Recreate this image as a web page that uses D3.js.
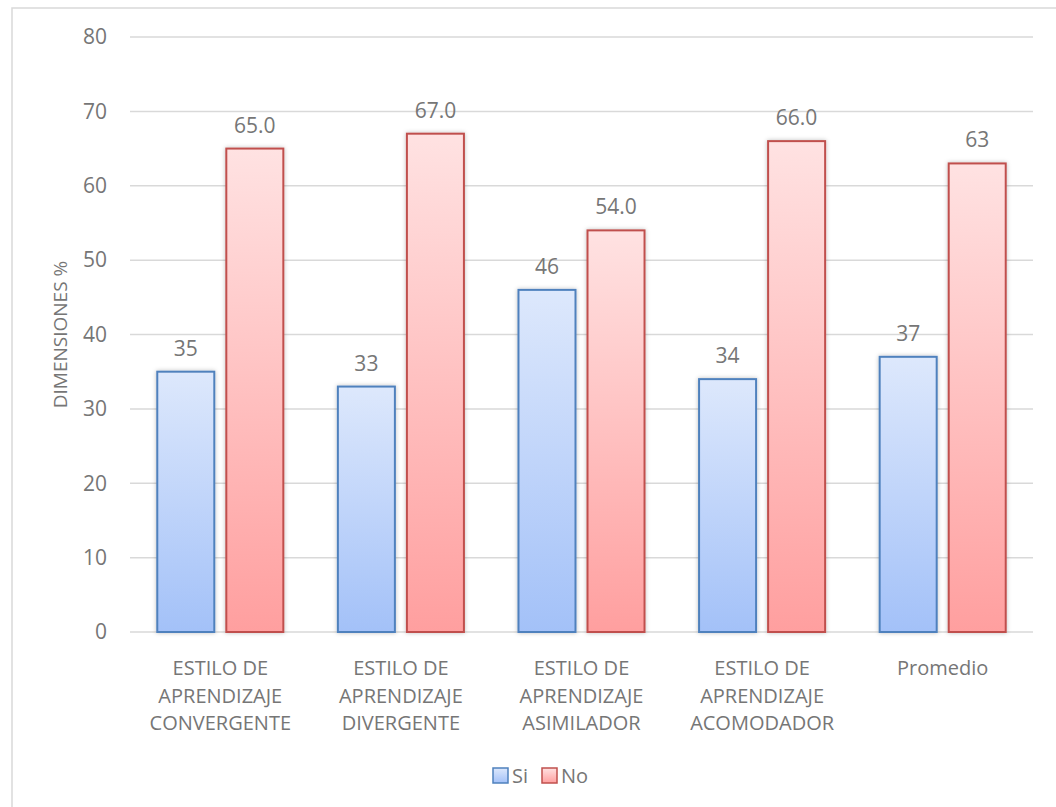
<!DOCTYPE html>
<html>
<head>
<meta charset="utf-8">
<script src="https://cdn.jsdelivr.net/npm/d3@7"></script>
<style>
  body { margin: 0; background: #fff; }
  text { font-family: "Open Sans", "Noto Sans", sans-serif; fill: #767676; }
</style>
</head>
<body>
<svg id="chart" width="1056" height="807"></svg>
<script>
// Data
const categories = [
  ["ESTILO DE", "APRENDIZAJE", "CONVERGENTE"],
  ["ESTILO DE", "APRENDIZAJE", "DIVERGENTE"],
  ["ESTILO DE", "APRENDIZAJE", "ASIMILADOR"],
  ["ESTILO DE", "APRENDIZAJE", "ACOMODADOR"],
  ["Promedio"]
];
const seriesNames = ["Si", "No"];
const siValues = [35, 33, 46, 34, 37];
const noValues = [65, 67, 54, 66, 63];
const siLabels = ["35", "33", "46", "34", "37"];
const noLabels = ["65.0", "67.0", "54.0", "66.0", "63"];
const yTicks = [0, 10, 20, 30, 40, 50, 60, 70, 80];

const svg = d3.select("#chart");

// frame of the chart area (right/bottom edges fall outside the picture)
svg.append("rect")
    .attr("x", 12).attr("y", 8)
    .attr("width", 1100).attr("height", 900)
    .attr("fill", "none")
    .attr("stroke", "#d9d9d9")
    .attr("stroke-width", 1.5);

const margin = {top: 37, left: 130, right: 1033, bottom: 632};

const y = d3.scaleLinear().domain([0, 80]).range([margin.bottom, margin.top]);
const x0 = d3.scaleBand()
    .domain(d3.range(categories.length))
    .range([margin.left, margin.right])
    .paddingInner(0.302)
    .paddingOuter(0.151);
const x1 = d3.scaleBand()
    .domain(seriesNames)
    .range([0, x0.bandwidth()])
    .paddingInner(0.174);

// gradients + shadow
const defs = svg.append("defs");
function grad(id, top, bottom) {
  const g = defs.append("linearGradient").attr("id", id)
      .attr("x1", 0).attr("y1", 0).attr("x2", 0).attr("y2", 1);
  g.append("stop").attr("offset", "0%").attr("stop-color", top);
  g.append("stop").attr("offset", "100%").attr("stop-color", bottom);
}
grad("gSi", "#dde8fc", "#a3c1f8");
grad("gNo", "#ffe2e2", "#ff9f9f");
const f = defs.append("filter").attr("id", "shadow")
    .attr("x", "-20%").attr("y", "-20%").attr("width", "140%").attr("height", "140%");
f.append("feDropShadow").attr("dx", 0).attr("dy", 0).attr("stdDeviation", 2)
    .attr("flood-color", "#000").attr("flood-opacity", 0.25);

// gridlines
svg.append("g")
    .selectAll("line")
    .data(yTicks)
    .enter().append("line")
    .attr("x1", margin.left).attr("x2", margin.right)
    .attr("y1", d => y(d)).attr("y2", d => y(d))
    .attr("stroke", "#d9d9d9")
    .attr("stroke-width", 1.5);

// y tick labels
svg.append("g")
    .selectAll("text")
    .data(yTicks)
    .enter().append("text")
    .attr("x", 107)
    .attr("y", d => y(d))
    .attr("dy", "0.35em")
    .attr("text-anchor", "end")
    .style("font-size", "21px")
    .text(d => d);

// y axis title
svg.append("text")
    .attr("transform", "translate(60," + ((margin.top + margin.bottom) / 2) + ") rotate(-90)")
    .attr("text-anchor", "middle")
    .attr("dy", "0.35em")
    .style("font-size", "19px")
    .text("DIMENSIONES %");

// bars
const rows = categories.map((c, i) => ({
  i: i,
  vals: [
    {key: "Si", v: siValues[i], label: siLabels[i], fill: "url(#gSi)", stroke: "#4f81bd"},
    {key: "No", v: noValues[i], label: noLabels[i], fill: "url(#gNo)", stroke: "#c0504d"}
  ]
}));

const groups = svg.append("g")
    .selectAll("g")
    .data(rows)
    .enter().append("g")
    .attr("transform", d => "translate(" + x0(d.i) + ",0)");

groups.selectAll("rect")
    .data(d => d.vals)
    .enter().append("rect")
    .attr("x", d => x1(d.key))
    .attr("y", d => y(d.v))
    .attr("width", x1.bandwidth())
    .attr("height", d => y(0) - y(d.v))
    .attr("fill", d => d.fill)
    .attr("stroke", d => d.stroke)
    .attr("stroke-width", 2)
    .attr("filter", "url(#shadow)");

groups.selectAll("text.lbl")
    .data(d => d.vals)
    .enter().append("text")
    .attr("class", "lbl")
    .attr("x", d => x1(d.key) + x1.bandwidth() / 2)
    .attr("y", d => y(d.v) - 16)
    .attr("text-anchor", "middle")
    .style("font-size", "21px")
    .text(d => d.label);

// category labels
const catG = svg.append("g")
    .selectAll("text")
    .data(categories)
    .enter().append("text")
    .attr("x", (d, i) => x0(i) + x0.bandwidth() / 2)
    .attr("y", 675)
    .attr("text-anchor", "middle")
    .style("font-size", "20px");
catG.selectAll("tspan")
    .data(d => d)
    .enter().append("tspan")
    .attr("x", function() { return d3.select(this.parentNode).attr("x"); })
    .attr("dy", (d, i) => i === 0 ? 0 : 27.5)
    .text(d => d);

// legend
const legend = svg.append("g").attr("transform", "translate(493,768)");
const legItems = [
  {name: seriesNames[0], fill: "url(#gSi)", stroke: "#4f81bd", x: 0},
  {name: seriesNames[1], fill: "url(#gNo)", stroke: "#c0504d", x: 49}
];
const li = legend.selectAll("g")
    .data(legItems)
    .enter().append("g")
    .attr("transform", d => "translate(" + d.x + ",0)");
li.append("rect")
    .attr("width", 15).attr("height", 15)
    .attr("fill", d => d.fill)
    .attr("stroke", d => d.stroke)
    .attr("stroke-width", 1.5);
li.append("text")
    .attr("x", 19).attr("y", 8)
    .attr("dy", "0.35em")
    .style("font-size", "20px")
    .text(d => d.name);
</script>
</body>
</html>
